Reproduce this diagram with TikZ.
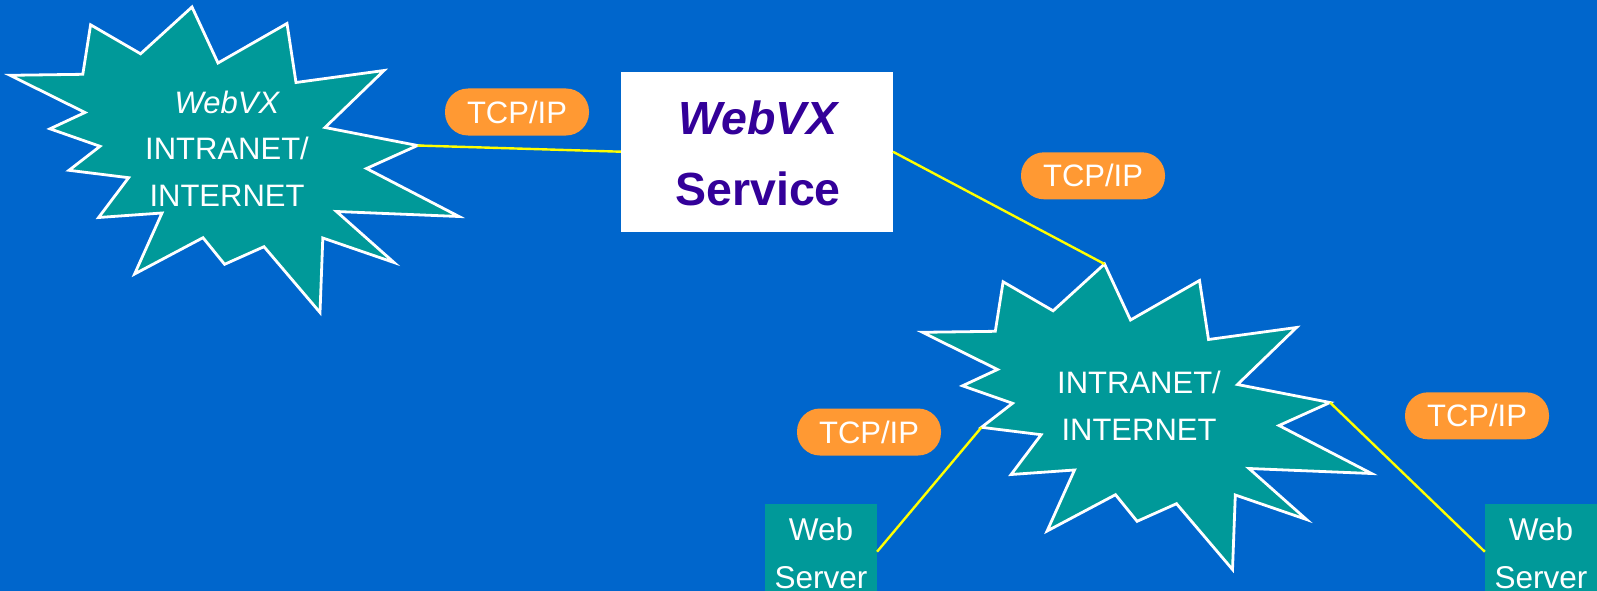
\documentclass[tikz,border=0pt]{standalone}
\usepackage{fontspec}
\setmainfont{Liberation Sans}
\definecolor{bgblue}{HTML}{0066CC}
\definecolor{tealfill}{HTML}{009999}
\definecolor{pillorange}{HTML}{FF9933}
\definecolor{svcpurple}{HTML}{330099}
\definecolor{linkyellow}{HTML}{FFFF00}
\tikzset{
  burstline/.style={draw=white, fill=tealfill, line width=2.8pt, line join=miter},
  link/.style={draw=linkyellow, line width=2.4pt},
  pill/.style={fill=pillorange, rounded corners=23pt, minimum width=144pt,
    minimum height=47pt, inner sep=0pt, text=white,
    font=\fontsize{31}{37}\selectfont, text height=22.2pt, text depth=0pt},
  webbox/.style={fill=tealfill, minimum width=112pt, minimum height=95.4pt, inner sep=0pt},
  svcbox/.style={fill=white, minimum width=271.7pt, minimum height=160pt, inner sep=0pt},
  burstlabel/.style={text=white, align=center, anchor=base, inner sep=0pt,
    font=\fontsize{31}{46.3}\selectfont},
  weblabel/.style={text=white, align=center, anchor=base, inner sep=0pt,
    font=\fontsize{31.5}{48}\selectfont},
  svclabel/.style={text=svcpurple, align=center, anchor=base, inner sep=0pt,
    font=\fontsize{46.5}{71.7}\selectfont\bfseries},
  cloudburst/.pic={
    \draw[burstline] (192,7) -- (218,63) -- (287,23.5) -- (296,82.5) -- (384,70.5)
      -- (325,127.5) -- (417.5,145.5) -- (366.5,168.5) -- (459,216.5) -- (336.5,211.5)
      -- (394,262.5) -- (322.8,238) -- (320,312.5) -- (264,246.7) -- (224.6,264.3)
      -- (203,237.7) -- (134.6,274) -- (162,213) -- (98.6,217.5) -- (128.6,177.7)
      -- (69,170.3) -- (100,146.3) -- (50,128.8) -- (85,112.5) -- (10,75.3)
      -- (82.8,74.3) -- (90.6,24.8) -- (140.6,53.8) -- cycle;
    \coordinate (-top) at (192,7);
    \coordinate (-tip) at (417.5,145.5);
    \coordinate (-lefttip) at (69,170.3);
  }
}
\begin{document}
\begin{tikzpicture}[x=1pt,y=-1pt]
  \useasboundingbox (0,0) rectangle (1597,591);
  \clip (0,0) rectangle (1597,591);
  \fill[bgblue] (0,0) rectangle (1597,591);

  % starbursts
  \pic (b1) at (0,0) {cloudburst};
  \pic (b2) at (912.5,257) {cloudburst};
  \node[burstlabel] (b1t) at (227,206) {{\itshape WebVX}\\INTRANET/\\INTERNET};
  \node[burstlabel] (b2t) at (1139,440) {INTRANET/\\INTERNET};

  % service box
  \node[svcbox] (svc) at (756.85,151.7) {};
  \node[svclabel] (svct) at (758,205.7) {{\itshape WebVX}\\Service};

  % web servers
  \node[webbox] (ws1) at (820.85,551.7) {};
  \node[weblabel] (ws1t) at (821,588) {Web\\Server};
  \node[webbox] (ws2) at (1541,551.7) {};
  \node[weblabel] (ws2t) at (1541,588) {Web\\Server};

  % TCP/IP pills
  \node[pill] (p1) at (517,112) {TCP/IP};
  \node[pill] (p2) at (1093,175.8) {TCP/IP};
  \node[pill] (p3) at (869,432) {TCP/IP};
  \node[pill] (p4) at (1477,415.8) {TCP/IP};

  % connectors
  \draw[link] (b1-tip) -- (svc.west);
  \draw[link] (svc.east) -- (b2-top);
  \draw[link] (b2-lefttip) -- (ws1.east);
  \draw[link] (b2-tip) -- (ws2.west);
\end{tikzpicture}
\end{document}
